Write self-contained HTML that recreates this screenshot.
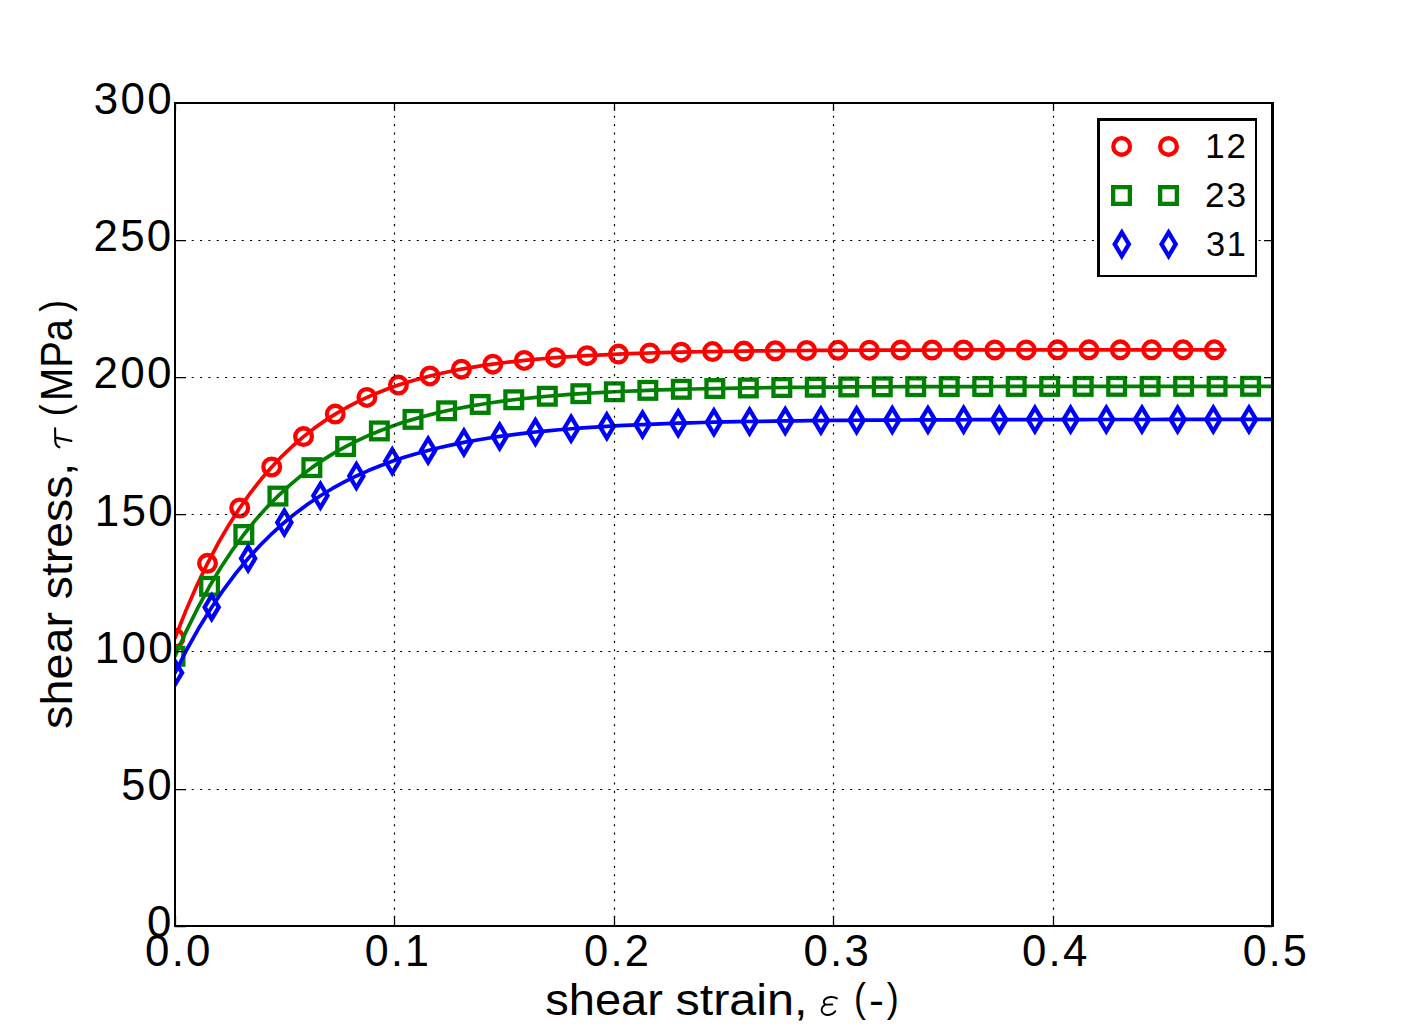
<!DOCTYPE html><html><head><meta charset="utf-8"><title>shear stress-strain</title><style>html,body{margin:0;padding:0;background:#fff;overflow:hidden}svg{display:block}text{font-family:"Liberation Sans",sans-serif;fill:#000}</style></head><body>
<svg width="1413" height="1032" viewBox="0 0 1413 1032">
<rect x="0" y="0" width="1413" height="1032" fill="#fff"/>
<defs><clipPath id="ax"><rect x="175.00" y="102.80" width="1097.60" height="823.50"/></clipPath></defs>
<g clip-path="url(#ax)">
<path d="M175.00 638.05L185.88 610.62L196.71 585.80L207.51 563.34L218.28 543.02L229.02 524.63L239.73 507.99L250.41 492.94L261.08 479.32L271.72 466.99L282.35 455.84L292.96 445.75L303.55 436.62L314.13 428.35L324.70 420.88L335.26 414.11L345.81 407.99L356.35 402.45L366.88 397.44L377.40 392.91L387.92 388.81L398.43 385.09L408.94 381.73L419.44 378.69L429.93 375.94L440.42 373.46L450.91 371.20L461.40 369.17L471.88 367.32L482.36 365.66L492.84 364.15L503.31 362.78L513.78 361.54L524.26 360.43L534.72 359.42L545.19 358.50L555.66 357.67L566.12 356.92L576.59 356.24L587.05 355.63L597.51 355.07L607.98 354.57L618.44 354.12L628.90 353.71L639.36 353.33L649.82 353.00L660.27 352.69L670.73 352.42L681.19 352.17L691.65 351.94L702.10 351.74L712.56 351.55L723.02 351.39L733.47 351.23L743.93 351.10L754.38 350.97L764.84 350.86L775.29 350.76L785.75 350.67L796.21 350.58L806.66 350.51L817.11 350.44L827.57 350.38L838.02 350.32L848.48 350.27L858.93 350.23L869.39 350.19L879.84 350.15L890.30 350.12L900.75 350.09L911.20 350.06L921.66 350.03L932.11 350.01L942.57 349.99L953.02 349.97L963.48 349.95L973.93 349.94L984.38 349.93L994.84 349.91L1005.29 349.90L1015.74 349.89L1026.20 349.88L1036.65 349.87L1047.11 349.87L1057.56 349.86L1068.01 349.85L1078.47 349.85L1088.92 349.84L1099.38 349.84L1109.83 349.83L1120.28 349.83L1130.74 349.83L1141.19 349.82L1151.64 349.82L1162.10 349.82L1172.55 349.82L1183.01 349.81L1193.46 349.81L1203.91 349.81L1214.37 349.81L1224.82 349.81" stroke="#ff0000" stroke-width="3.70" fill="none" stroke-linecap="round" stroke-linejoin="round"/>
<g stroke="#ff0000" stroke-width="4.30" fill="none" stroke-linejoin="miter" stroke-miterlimit="10"><circle cx="175.00" cy="638.05" r="8.35"/><circle cx="207.51" cy="563.34" r="8.35"/><circle cx="239.73" cy="507.99" r="8.35"/><circle cx="271.72" cy="466.99" r="8.35"/><circle cx="303.55" cy="436.62" r="8.35"/><circle cx="335.26" cy="414.11" r="8.35"/><circle cx="366.88" cy="397.44" r="8.35"/><circle cx="398.43" cy="385.09" r="8.35"/><circle cx="429.93" cy="375.94" r="8.35"/><circle cx="461.40" cy="369.17" r="8.35"/><circle cx="492.84" cy="364.15" r="8.35"/><circle cx="524.26" cy="360.43" r="8.35"/><circle cx="555.66" cy="357.67" r="8.35"/><circle cx="587.05" cy="355.63" r="8.35"/><circle cx="618.44" cy="354.12" r="8.35"/><circle cx="649.82" cy="353.00" r="8.35"/><circle cx="681.19" cy="352.17" r="8.35"/><circle cx="712.56" cy="351.55" r="8.35"/><circle cx="743.93" cy="351.10" r="8.35"/><circle cx="775.29" cy="350.76" r="8.35"/><circle cx="806.66" cy="350.51" r="8.35"/><circle cx="838.02" cy="350.32" r="8.35"/><circle cx="869.39" cy="350.19" r="8.35"/><circle cx="900.75" cy="350.09" r="8.35"/><circle cx="932.11" cy="350.01" r="8.35"/><circle cx="963.48" cy="349.95" r="8.35"/><circle cx="994.84" cy="349.91" r="8.35"/><circle cx="1026.20" cy="349.88" r="8.35"/><circle cx="1057.56" cy="349.86" r="8.35"/><circle cx="1088.92" cy="349.84" r="8.35"/><circle cx="1120.28" cy="349.83" r="8.35"/><circle cx="1151.64" cy="349.82" r="8.35"/><circle cx="1183.01" cy="349.81" r="8.35"/><circle cx="1214.37" cy="349.81" r="8.35"/></g>
<path d="M175.00 656.30L186.56 630.61L198.08 607.36L209.56 586.32L221.01 567.29L232.44 550.07L243.84 534.48L255.22 520.38L266.58 507.62L277.92 496.08L289.24 485.63L300.54 476.18L311.84 467.63L323.12 459.89L334.38 452.88L345.64 446.55L356.89 440.82L368.13 435.63L379.36 430.93L390.59 426.69L401.81 422.84L413.02 419.37L424.23 416.22L435.44 413.37L446.64 410.80L457.84 408.47L469.03 406.36L480.22 404.45L491.41 402.72L502.59 401.16L513.77 399.75L524.95 398.47L536.13 397.31L547.31 396.26L558.48 395.31L569.66 394.46L580.83 393.68L592.00 392.98L603.17 392.34L614.34 391.77L625.51 391.25L636.68 390.78L647.84 390.35L659.01 389.97L670.18 389.62L681.34 389.30L692.51 389.02L703.67 388.76L714.83 388.53L726.00 388.31L737.16 388.12L748.33 387.95L759.49 387.79L770.65 387.65L781.81 387.52L792.98 387.41L804.14 387.30L815.30 387.21L826.46 387.12L837.62 387.04L848.79 386.97L859.95 386.91L871.11 386.85L882.27 386.80L893.43 386.75L904.59 386.71L915.75 386.67L926.91 386.64L938.08 386.60L949.24 386.58L960.40 386.55L971.56 386.53L982.72 386.51L993.88 386.49L1005.04 386.47L1016.20 386.45L1027.36 386.44L1038.52 386.43L1049.68 386.41L1060.84 386.40L1072.00 386.39L1083.17 386.39L1094.33 386.38L1105.49 386.37L1116.65 386.36L1127.81 386.36L1138.97 386.35L1150.13 386.35L1161.29 386.34L1172.45 386.34L1183.61 386.34L1194.77 386.33L1205.93 386.33L1217.09 386.33L1228.25 386.33L1239.41 386.32L1250.57 386.32L1261.73 386.32L1272.90 386.32L1284.06 386.32L1295.22 386.32" stroke="#008000" stroke-width="3.70" fill="none" stroke-linecap="round" stroke-linejoin="round"/>
<g stroke="#008000" stroke-width="4.30" fill="none" stroke-linejoin="miter" stroke-miterlimit="10"><rect x="166.65" y="647.95" width="16.70" height="16.70"/><rect x="201.21" y="577.97" width="16.70" height="16.70"/><rect x="235.49" y="526.13" width="16.70" height="16.70"/><rect x="269.57" y="487.73" width="16.70" height="16.70"/><rect x="303.49" y="459.28" width="16.70" height="16.70"/><rect x="337.29" y="438.20" width="16.70" height="16.70"/><rect x="371.01" y="422.58" width="16.70" height="16.70"/><rect x="404.67" y="411.02" width="16.70" height="16.70"/><rect x="438.29" y="402.45" width="16.70" height="16.70"/><rect x="471.87" y="396.10" width="16.70" height="16.70"/><rect x="505.42" y="391.40" width="16.70" height="16.70"/><rect x="538.96" y="387.91" width="16.70" height="16.70"/><rect x="572.48" y="385.33" width="16.70" height="16.70"/><rect x="605.99" y="383.42" width="16.70" height="16.70"/><rect x="639.49" y="382.00" width="16.70" height="16.70"/><rect x="672.99" y="380.95" width="16.70" height="16.70"/><rect x="706.48" y="380.18" width="16.70" height="16.70"/><rect x="739.98" y="379.60" width="16.70" height="16.70"/><rect x="773.46" y="379.17" width="16.70" height="16.70"/><rect x="806.95" y="378.86" width="16.70" height="16.70"/><rect x="840.44" y="378.62" width="16.70" height="16.70"/><rect x="873.92" y="378.45" width="16.70" height="16.70"/><rect x="907.40" y="378.32" width="16.70" height="16.70"/><rect x="940.89" y="378.23" width="16.70" height="16.70"/><rect x="974.37" y="378.16" width="16.70" height="16.70"/><rect x="1007.85" y="378.10" width="16.70" height="16.70"/><rect x="1041.33" y="378.06" width="16.70" height="16.70"/><rect x="1074.82" y="378.04" width="16.70" height="16.70"/><rect x="1108.30" y="378.01" width="16.70" height="16.70"/><rect x="1141.78" y="378.00" width="16.70" height="16.70"/><rect x="1175.26" y="377.99" width="16.70" height="16.70"/><rect x="1208.74" y="377.98" width="16.70" height="16.70"/><rect x="1242.22" y="377.97" width="16.70" height="16.70"/><rect x="1275.71" y="377.97" width="16.70" height="16.70"/></g>
<path d="M175.00 672.85L187.26 648.74L199.49 626.91L211.68 607.17L223.85 589.30L235.98 573.13L248.10 558.50L260.19 545.27L272.27 533.29L284.32 522.45L296.36 512.65L308.39 503.77L320.40 495.74L332.41 488.48L344.40 481.91L356.38 475.96L368.35 470.58L380.31 465.71L392.27 461.30L404.22 457.32L416.17 453.71L428.11 450.44L440.04 447.49L451.97 444.82L463.90 442.40L475.82 440.21L487.74 438.23L499.66 436.44L511.57 434.82L523.49 433.35L535.40 432.03L547.30 430.83L559.21 429.74L571.11 428.76L583.02 427.87L594.92 427.06L606.82 426.33L618.72 425.67L630.62 425.08L642.52 424.54L654.41 424.05L666.31 423.61L678.21 423.21L690.10 422.85L701.99 422.52L713.89 422.22L725.78 421.96L737.68 421.71L749.57 421.49L761.46 421.30L773.35 421.12L785.24 420.95L797.14 420.81L809.03 420.67L820.92 420.55L832.81 420.44L844.70 420.35L856.59 420.26L868.48 420.18L880.37 420.10L892.26 420.04L904.15 419.98L916.04 419.92L927.93 419.87L939.82 419.83L951.71 419.79L963.60 419.75L975.49 419.72L987.38 419.69L999.27 419.66L1011.16 419.64L1023.05 419.62L1034.94 419.60L1046.83 419.58L1058.72 419.56L1070.61 419.55L1082.50 419.54L1094.39 419.52L1106.28 419.51L1118.17 419.50L1130.06 419.49L1141.95 419.49L1153.84 419.48L1165.73 419.47L1177.62 419.47L1189.51 419.46L1201.40 419.45L1213.29 419.45L1225.18 419.45L1237.07 419.44L1248.96 419.44L1260.84 419.44L1272.73 419.43L1284.62 419.43L1296.51 419.43L1308.40 419.43L1320.29 419.43L1332.18 419.42L1344.07 419.42L1355.96 419.42L1367.85 419.42" stroke="#0000ff" stroke-width="3.70" fill="none" stroke-linecap="round" stroke-linejoin="round"/>
<g stroke="#0000ff" stroke-width="4.30" fill="none" stroke-linejoin="miter" stroke-miterlimit="10"><path d="M175.00 661.05L182.09 672.85L175.00 684.66L167.91 672.85Z"/><path d="M211.68 595.36L218.77 607.17L211.68 618.97L204.60 607.17Z"/><path d="M248.10 546.69L255.19 558.50L248.10 570.31L241.01 558.50Z"/><path d="M284.32 510.64L291.41 522.45L284.32 534.26L277.24 522.45Z"/><path d="M320.40 483.94L327.49 495.74L320.40 507.55L313.32 495.74Z"/><path d="M356.38 464.15L363.46 475.96L356.38 487.77L349.29 475.96Z"/><path d="M392.27 449.49L399.36 461.30L392.27 473.11L385.19 461.30Z"/><path d="M428.11 438.64L435.19 450.44L428.11 462.25L421.02 450.44Z"/><path d="M463.90 430.59L470.98 442.40L463.90 454.21L456.81 442.40Z"/><path d="M499.66 424.63L506.75 436.44L499.66 448.25L492.57 436.44Z"/><path d="M535.40 420.22L542.48 432.03L535.40 443.84L528.31 432.03Z"/><path d="M571.11 416.95L578.20 428.76L571.11 440.56L564.03 428.76Z"/><path d="M606.82 414.52L613.91 426.33L606.82 438.14L599.74 426.33Z"/><path d="M642.52 412.73L649.60 424.54L642.52 436.35L635.43 424.54Z"/><path d="M678.21 411.40L685.29 423.21L678.21 435.02L671.12 423.21Z"/><path d="M713.89 410.42L720.97 422.22L713.89 434.03L706.80 422.22Z"/><path d="M749.57 409.69L756.65 421.49L749.57 433.30L742.48 421.49Z"/><path d="M785.24 409.14L792.33 420.95L785.24 432.76L778.16 420.95Z"/><path d="M820.92 408.74L828.00 420.55L820.92 432.36L813.83 420.55Z"/><path d="M856.59 408.45L863.68 420.26L856.59 432.07L849.51 420.26Z"/><path d="M892.26 408.23L899.35 420.04L892.26 431.85L885.18 420.04Z"/><path d="M927.93 408.07L935.02 419.87L927.93 431.68L920.85 419.87Z"/><path d="M963.60 407.94L970.69 419.75L963.60 431.56L956.52 419.75Z"/><path d="M999.27 407.86L1006.36 419.66L999.27 431.47L992.19 419.66Z"/><path d="M1034.94 407.79L1042.03 419.60L1034.94 431.41L1027.86 419.60Z"/><path d="M1070.61 407.74L1077.70 419.55L1070.61 431.36L1063.53 419.55Z"/><path d="M1106.28 407.70L1113.37 419.51L1106.28 431.32L1099.20 419.51Z"/><path d="M1141.95 407.68L1149.04 419.49L1141.95 431.29L1134.86 419.49Z"/><path d="M1177.62 407.66L1184.70 419.47L1177.62 431.27L1170.53 419.47Z"/><path d="M1213.29 407.64L1220.37 419.45L1213.29 431.26L1206.20 419.45Z"/><path d="M1248.96 407.63L1256.04 419.44L1248.96 431.25L1241.87 419.44Z"/><path d="M1284.62 407.62L1291.71 419.43L1284.62 431.24L1277.54 419.43Z"/><path d="M1320.29 407.62L1327.38 419.43L1320.29 431.23L1313.21 419.43Z"/><path d="M1355.96 407.61L1363.05 419.42L1355.96 431.23L1348.88 419.42Z"/></g>
</g>
<g stroke="#000" stroke-width="1.2" stroke-dasharray="2.1 6.235" fill="none"><line x1="394.50" y1="926.30" x2="394.50" y2="102.80"/><line x1="614.50" y1="926.30" x2="614.50" y2="102.80"/><line x1="833.50" y1="926.30" x2="833.50" y2="102.80"/><line x1="1053.50" y1="926.30" x2="1053.50" y2="102.80"/><line x1="175.00" y1="789.50" x2="1272.60" y2="789.50"/><line x1="175.00" y1="651.50" x2="1272.60" y2="651.50"/><line x1="175.00" y1="514.50" x2="1272.60" y2="514.50"/><line x1="175.00" y1="377.50" x2="1272.60" y2="377.50"/><line x1="175.00" y1="240.50" x2="1272.60" y2="240.50"/></g>
<path d="M175.50 926V916M175.50 103V111M394.50 926V916M394.50 103V111M614.50 926V916M614.50 103V111M833.50 926V916M833.50 103V111M1053.50 926V916M1053.50 103V111M1272.50 926V916M1272.50 103V111M175 926.50H186M1272 926.50H1264M175 789.50H186M1272 789.50H1264M175 651.50H186M1272 651.50H1264M175 514.50H186M1272 514.50H1264M175 377.50H186M1272 377.50H1264M175 240.50H186M1272 240.50H1264M175 102.50H186M1272 102.50H1264" stroke="#000" stroke-width="1.25" fill="none"/>
<g fill="#000"><rect x="174" y="102" width="2" height="825"/><rect x="1271" y="102" width="3" height="825"/><rect x="174" y="102" width="1100" height="2"/><rect x="174" y="925" width="1100" height="2"/></g>
<rect x="1097" y="118" width="160" height="159" fill="#fff"/>
<g fill="#000"><rect x="1097" y="118" width="3" height="159"/><rect x="1255" y="118" width="2" height="159"/><rect x="1097" y="118" width="160" height="3"/><rect x="1097" y="275" width="160" height="2"/></g>
<g stroke="#ff0000" stroke-width="4.30" fill="none" stroke-linejoin="miter"><circle cx="1121.65" cy="146.40" r="8.35"/><circle cx="1168.50" cy="146.40" r="8.35"/></g>
<g stroke="#008000" stroke-width="4.30" fill="none" stroke-linejoin="miter"><rect x="1113.15" y="187.15" width="16.70" height="16.70"/><rect x="1160.15" y="187.15" width="16.70" height="16.70"/></g>
<g stroke="#0000ff" stroke-width="4.30" fill="none" stroke-linejoin="miter"><path d="M1121.80 232.39L1128.89 244.20L1121.80 256.01L1114.71 244.20Z"/><path d="M1168.60 232.39L1175.69 244.20L1168.60 256.01L1161.51 244.20Z"/></g>
<text transform="matrix(1.02131 0 0 1.03934 -8.318 10.146)" x="100" y="100" font-size="43.0" letter-spacing="2.2">300</text>
<text transform="matrix(1.02145 0 0 1.03279 -8.644 147.605)" x="100" y="100" font-size="43.0" letter-spacing="2.2">250</text>
<text transform="matrix(1.02422 0 0 1.03934 -8.927 284.146)" x="100" y="100" font-size="43.0" letter-spacing="2.2">200</text>
<text transform="matrix(1.02316 0 0 1.02623 -7.541 423.264)" x="100" y="100" font-size="43.0" letter-spacing="2.2">150</text>
<text transform="matrix(1.02316 0 0 1.03279 -7.541 559.605)" x="100" y="100" font-size="43.0" letter-spacing="2.2">100</text>
<text transform="matrix(1.00860 0 0 1.02951 20.275 697.034)" x="100" y="100" font-size="43.0" letter-spacing="2.2">50</text>
<text transform="matrix(1.01951 0 0 1.03279 45.065 833.805)" x="100" y="100" font-size="43.0" letter-spacing="2.2">0</text>
<text transform="matrix(1.02058 0 0 1.03279 42.956 862.705)" x="100" y="100" font-size="43.0" letter-spacing="2.2">0.0</text>
<text transform="matrix(0.99917 0 0 1.03279 264.934 862.705)" x="100" y="100" font-size="43.0" letter-spacing="2.2">0.1</text>
<text transform="matrix(1.01245 0 0 1.04262 482.883 861.616)" x="100" y="100" font-size="43.0" letter-spacing="2.2">0.2</text>
<text transform="matrix(1.01818 0 0 1.04262 701.600 861.616)" x="100" y="100" font-size="43.0" letter-spacing="2.2">0.3</text>
<text transform="matrix(1.01878 0 0 1.04262 920.140 861.616)" x="100" y="100" font-size="43.0" letter-spacing="2.2">0.4</text>
<text transform="matrix(0.99669 0 0 1.04262 1143.186 861.616)" x="100" y="100" font-size="43.0" letter-spacing="2.2">0.5</text>
<text transform="matrix(1.02695 0 0 1.04421 1102.638 53.779)" x="100" y="100" font-size="34" letter-spacing="1.7395348837209306">12</text>
<text transform="matrix(1.03724 0 0 1.05000 1101.361 102.238)" x="100" y="100" font-size="34" letter-spacing="1.7395348837209306">23</text>
<text transform="matrix(1.01096 0 0 1.04583 1104.840 151.755)" x="100" y="100" font-size="34" letter-spacing="1.7395348837209306">31</text>
<text transform="matrix(1.09479 0 0 1.02677 435.753 912.409)" x="100" y="100" font-size="43.0">shear</text>
<text transform="matrix(1.12946 0 0 1.02677 562.442 912.409)" x="100" y="100" font-size="43.0">strain,</text>
<text transform="matrix(0.83556 0 0 0.93250 770.347 918.991)" x="100" y="100" font-size="43.0">(</text>
<text transform="matrix(1.04762 0 0 0.95385 764.243 919.015)" x="100" y="100" font-size="43.0">-</text>
<text transform="matrix(0.83556 0 0 0.93250 803.227 918.991)" x="100" y="100" font-size="43.0">)</text>
<text transform="matrix(0 -1.08815 1.02362 0 -30.174 837.775)" x="100" y="100" font-size="43.0">shear</text>
<text transform="matrix(0 -1.07737 1.02362 0 -30.174 706.883)" x="100" y="100" font-size="43.0">stress,</text>
<text transform="matrix(0 -0.83556 0.93500 0 -24.181 499.853)" x="100" y="100" font-size="43.0">(</text>
<text transform="matrix(0 -0.92588 1.02362 0 -30.174 493.529)" x="100" y="100" font-size="43.0">MPa</text>
<text transform="matrix(0 -0.80889 0.93500 0 -24.181 392.693)" x="100" y="100" font-size="43.0">)</text>
<path d="M836.9 998.4C833.5 996.2 827.5 996.5 824.8 999.5C823.3 1001.2 823.6 1003.8 825.6 1004.6L832.3 1004.5M825.6 1004.6C822.5 1005.8 821.2 1008.8 821.7 1010.8C822.4 1014.2 825.8 1015.2 828.2 1015C831.5 1014.8 833.8 1013.2 835.3 1011.2" fill="none" stroke="#000" stroke-width="1.9" stroke-linecap="round" stroke-linejoin="round"/>
<path d="M55.1 428.3L55.3 441.6Q55.7 445.6 59.4 447.3M55.6 437.6L71.4 440.9" fill="none" stroke="#000" stroke-width="2.1" stroke-linecap="round" stroke-linejoin="round"/>
</svg></body></html>
